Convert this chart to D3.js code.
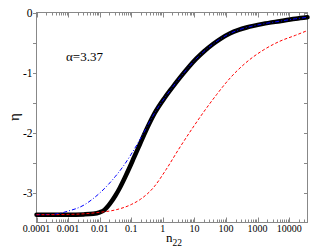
<!DOCTYPE html>
<html>
<head>
<meta charset="utf-8">
<script src="https://cdn.jsdelivr.net/npm/d3@7"></script>
<style>
  body { margin: 0; background: #fff; }
  svg { display: block; }
  text { font-family: "Liberation Serif", "Times New Roman", Times, serif; fill: #000; }
</style>
</head>
<body>
<svg id="chart"></svg>
<script>
// log10(n22) positions and eta values
const blackLogN = [-4, -3, -2.5, -2.2, -2.0, -1.85, -1.68, -1.5, -1.36, -1.2, -1.05, -0.9, -0.73, -0.5, -0.25, 0.06, 0.3, 0.535, 0.8, 1.06, 1.3, 1.59, 1.85, 2.12, 2.4, 2.65, 3.17, 3.7, 4.2, 4.58];
const blackEta = [-3.37, -3.37, -3.365, -3.355, -3.33, -3.29, -3.19, -3.05, -2.92, -2.75, -2.58, -2.4, -2.2, -1.93, -1.67, -1.42, -1.25, -1.09, -0.92, -0.77, -0.65, -0.525, -0.43, -0.35, -0.29, -0.25, -0.19, -0.145, -0.105, -0.08];

const blueLogN = [-4, -3.5, -3, -2.5, -2.25, -2.0, -1.75, -1.5, -1.25, -1.0, -0.75, -0.5, -0.25, 0.06, 0.3, 0.535, 0.8, 1.06, 1.3, 1.59, 1.85, 2.12, 2.4, 2.65, 3.17, 3.7, 4.2, 4.58];
const blueEta = [-3.37, -3.365, -3.31, -3.21, -3.12, -3.01, -2.88, -2.73, -2.56, -2.36, -2.14, -1.9, -1.665, -1.42, -1.25, -1.09, -0.92, -0.77, -0.65, -0.525, -0.43, -0.35, -0.29, -0.25, -0.19, -0.145, -0.105, -0.08];

const redLogN = [-4, -3, -2.5, -2, -1.5, -1.0, -0.7, -0.3, 0.1, 0.5, 1.0, 1.4, 1.7, 2.1, 2.6, 3.2, 3.7, 4.2, 4.58];
const redEta = [-3.37, -3.365, -3.355, -3.33, -3.29, -3.2, -3.11, -2.92, -2.62, -2.28, -1.88, -1.58, -1.37, -1.11, -0.85, -0.62, -0.48, -0.38, -0.3];

const xTickValues = [1e-4, 1e-3, 1e-2, 1e-1, 1, 10, 100, 1000, 10000];
const xTickLabels = ["0.0001", "0.001", "0.01", "0.1", "1", "10", "100", "1000", "10000"];
const yTickValues = [-3, -2, -1, 0];
const yTickLabels = ["-3", "-2", "-1", "0"];
const yMinorValues = [-2.5, -1.5, -0.5];

const W = 319, H = 247;
const mLeft = 36.5, mRight = 307.5, mTop = 12.5, mBottom = 222.5;

const svg = d3.select("#chart").attr("width", W).attr("height", H);

const x = d3.scaleLog().domain([1e-4, 3.8e4]).range([mLeft, mRight]);
const y = d3.scaleLinear().domain([-3.5, 0]).range([mBottom, mTop]);

// minor x ticks 2..9 per decade
const xMinor = [];
for (let e = -4; e <= 4; e++) {
  for (let k = 2; k <= 9; k++) {
    const v = k * Math.pow(10, e);
    if (v < 3.8e4) xMinor.push(v);
  }
}

const axisColor = "#888";
const g = svg.append("g");

// frame
g.append("rect")
  .attr("x", mLeft).attr("y", mTop)
  .attr("width", mRight - mLeft).attr("height", mBottom - mTop)
  .attr("fill", "none").attr("stroke", axisColor).attr("stroke-width", 1);

// x ticks (inward, bottom and top)
const xr = v => Math.round(x(v)) + 0.5;
g.selectAll(".xmaj").data(xTickValues).enter().append("path")
  .attr("d", d => `M${xr(d)},${mBottom}V${mBottom - 5}M${xr(d)},${mTop}V${mTop + 5}`)
  .attr("stroke", axisColor);
g.selectAll(".xmin").data(xMinor).enter().append("path")
  .attr("d", d => `M${xr(d)},${mBottom}V${mBottom - 3}M${xr(d)},${mTop}V${mTop + 3}`)
  .attr("stroke", axisColor);

// y ticks (outward on left, inward on right)
const yr = v => Math.round(y(v)) + 0.5;
g.selectAll(".yt").data(yTickValues.concat(yMinorValues)).enter().append("path")
  .attr("d", d => `M${mLeft},${yr(d)}H${mLeft - 3.5}M${mRight},${yr(d)}H${mRight - 3.5}`)
  .attr("stroke", axisColor);

// tick labels
g.selectAll(".xl").data(xTickValues).enter().append("text")
  .attr("x", d => x(d)).attr("y", 232)
  .attr("text-anchor", "middle").attr("font-size", 10)
  .text((d, i) => xTickLabels[i]);
g.selectAll(".yl").data(yTickValues).enter().append("text")
  .attr("x", 32.5).attr("y", d => y(d) + 4)
  .attr("text-anchor", "end").attr("font-size", 11.5)
  .text((d, i) => yTickLabels[i]);

// curves
const line = d3.line()
  .x(d => x(Math.pow(10, d[0])))
  .y(d => y(d[1]))
  .curve(d3.curveMonotoneX);

const plot = svg.append("g");
plot.append("path")
  .datum(d3.zip(blackLogN, blackEta))
  .attr("d", line).attr("fill", "none")
  .attr("stroke", "#000").attr("stroke-width", 4.5).attr("stroke-linecap", "round");
plot.append("path")
  .datum(d3.zip(blueLogN, blueEta))
  .attr("d", line).attr("fill", "none")
  .attr("stroke", "#0000ff").attr("stroke-width", 1)
  .attr("stroke-dasharray", "4,2,1,2");
plot.append("path")
  .datum(d3.zip(redLogN, redEta))
  .attr("d", line).attr("fill", "none")
  .attr("stroke", "#ff0000").attr("stroke-width", 1)
  .attr("stroke-dasharray", "3,2");

// annotation and axis titles
svg.append("text").attr("x", 66).attr("y", 61).attr("font-size", 13).text("α=3.37");
svg.append("text")
  .attr("transform", "translate(19,117) rotate(-90)")
  .attr("text-anchor", "middle").attr("font-size", 15).text("η");
const xl = svg.append("text").attr("x", 166).attr("y", 242).attr("font-size", 13);
xl.append("tspan").text("n");
xl.append("tspan").attr("font-size", 9.5).attr("dy", 4).text("22");
</script>
</body>
</html>
